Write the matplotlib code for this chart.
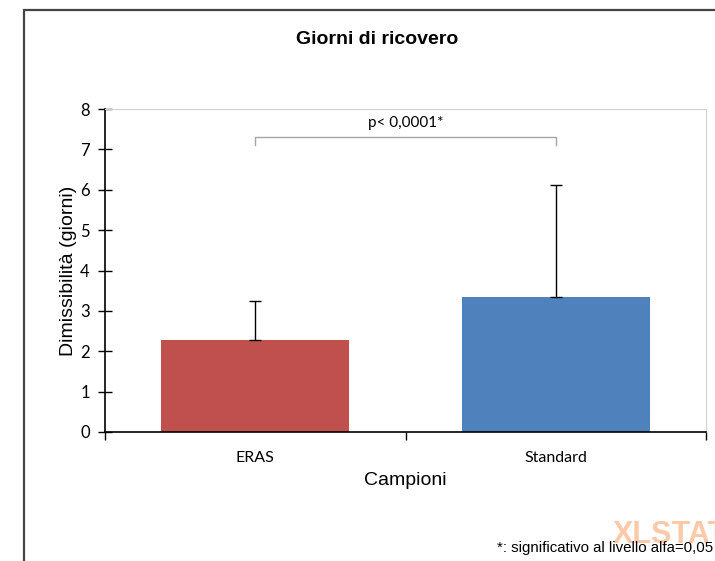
import matplotlib
matplotlib.use("Agg")
import matplotlib.pyplot as plt
from matplotlib.patches import Rectangle

# data
categories = ["ERAS", "Standard"]
means = [2.27, 3.35]
sd = [0.98, 2.76]
bar_colors = ["#C0504D", "#4F81BD"]
y_ticks = [0, 1, 2, 3, 4, 5, 6, 7, 8]
p_label = "p< 0,0001*"
bracket_y = 7.3
bracket_leg = 7.1

fig = plt.figure(figsize=(7.15, 5.61), dpi=100)

# outer chart frame (runs off the right/bottom edge like the screenshot)
fig.patches.append(Rectangle((24 / 715, -0.1), 1.0, 1.1 - 10 / 561,
                             transform=fig.transFigure, fill=False,
                             edgecolor="#444444", linewidth=1.6))

ax = fig.add_axes([105 / 715, 1 - 432 / 561, 601 / 715, 323 / 561])

xpos = [0.5, 1.5]
ax.bar(xpos, means, width=0.625, color=bar_colors, zorder=2)
ax.errorbar(xpos, means, yerr=[[0, 0], sd], fmt="none", ecolor="black",
            elinewidth=1.0, capsize=4.5, capthick=1.0, zorder=3)

ax.set_xlim(0, 2)
ax.set_ylim(0, 8)
ax.set_yticks(y_ticks)
ax.set_xticks([0, 1, 2])
ax.set_xticklabels([])
ax.set_xticks(xpos, minor=True)
ax.set_xticklabels(categories, minor=True, fontfamily="Lato", fontsize=11.5)
ax.tick_params(axis="x", which="minor", length=0, pad=14)
ax.tick_params(axis="x", which="major", direction="out", length=6, width=1.0)
ax.tick_params(axis="y", direction="inout", length=10, width=1.0, pad=6)
for t in ax.get_yticklabels():
    t.set_fontfamily("Lato")
    t.set_fontsize(12)

ax.spines["left"].set_linewidth(1.2)
ax.spines["bottom"].set_linewidth(1.2)
ax.spines["top"].set_color("#d0d0d0")
ax.spines["right"].set_color("#d0d0d0")

# significance bracket
ax.plot([xpos[0], xpos[0], xpos[1], xpos[1]],
        [bracket_leg, bracket_y, bracket_y, bracket_leg],
        color="#a6a6a6", linewidth=1.0, clip_on=False)
ax.text(1.0, bracket_y + 0.18, p_label, ha="center", va="bottom",
        fontfamily="Lato", fontsize=11)

ax.set_xlabel("Campioni", fontfamily="Liberation Sans", fontsize=14, labelpad=5)
ax.set_ylabel("Dimissibilità (giorni)", fontfamily="Liberation Sans",
              fontsize=14, labelpad=2)

fig.text(377 / 715, 1 - 40 / 561, "Giorni di ricovero", ha="center",
         va="center", fontfamily="Liberation Sans", fontweight="bold",
         fontsize=14)

# XLSTAT watermark (cut off at the edge, as in the screenshot)
fig.text(613 / 715, 1 - 543 / 561, "XLSTAT", ha="left", va="baseline",
         color="#FDC9A8", fontfamily="Liberation Sans", fontweight="bold",
         fontsize=22, zorder=0)
fig.text(713 / 715, 1 - 552 / 561, "*: significativo al livello alfa=0,05",
         ha="right", va="baseline", fontfamily="Liberation Sans", fontsize=10.8)

fig.savefig("out.png", dpi=100)
